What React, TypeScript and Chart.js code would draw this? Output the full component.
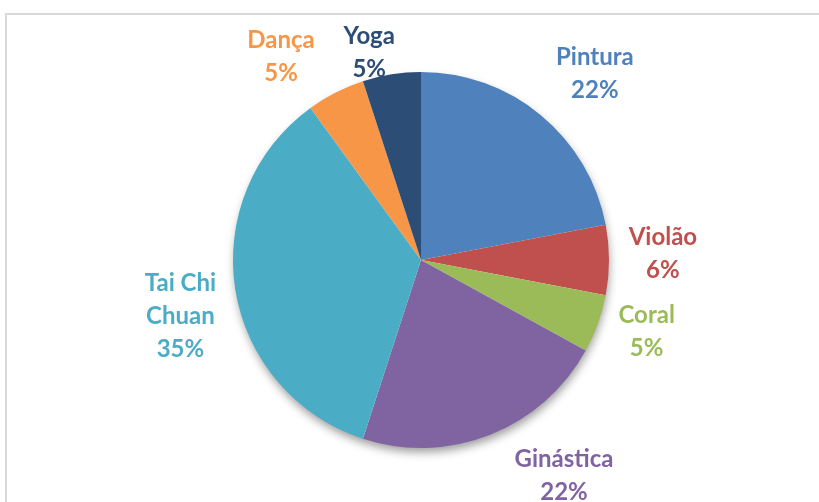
import React, { useEffect, useRef } from "react";
import { Chart, registerables } from "chart.js";

Chart.register(...registerables);

const categories = ["Pintura", "Violão", "Coral", "Ginástica", "Tai Chi Chuan", "Dança", "Yoga"];
const values = [22, 6, 5, 22, 35, 5, 5];
const colors = ["#4F81BD", "#C0504D", "#9BBB59", "#8064A2", "#4BACC6", "#F79646", "#2C4D75"];

// label placement styling (radial distance factor and angular tweak in degrees)
const labelDist = [1.356, 1.287, 1.26, 1.378, 1.314, 1.314, 1.138];
const labelAngleTweak = [3.4, -1.4, -2.1, -11.9, -4.1, -7.5, -5];

const FONT = "bold 24px Lato, 'Open Sans', sans-serif";

const framePlugin = {
  id: "frame",
  beforeDraw(chart: any) {
    const ctx = chart.ctx;
    ctx.save();
    ctx.fillStyle = "#ffffff";
    ctx.fillRect(0, 0, chart.width, chart.height);
    ctx.strokeStyle = "#d9d9d9";
    ctx.lineWidth = 2;
    ctx.strokeRect(6, 14, chart.width + 20, chart.height + 20);
    ctx.restore();
  },
};

const shadowPlugin = {
  id: "pieShadow",
  beforeDatasetsDraw(chart: any) {
    const meta = chart.getDatasetMeta(0);
    const el = meta.data[0];
    if (!el) return;
    const ctx = chart.ctx;
    ctx.save();
    ctx.shadowColor = "rgba(0,0,0,0.4)";
    ctx.shadowBlur = 10;
    ctx.shadowOffsetX = 1;
    ctx.shadowOffsetY = 5;
    ctx.fillStyle = "#ffffff";
    ctx.beginPath();
    ctx.arc(el.x, el.y, el.outerRadius - 1, 0, Math.PI * 2);
    ctx.fill();
    ctx.restore();
  },
};

const labelPlugin = {
  id: "outLabels",
  afterDatasetsDraw(chart: any) {
    const ctx = chart.ctx;
    const meta = chart.getDatasetMeta(0);
    const data = chart.data.datasets[0].data as number[];
    const total = data.reduce((a, b) => a + b, 0);
    ctx.save();
    ctx.font = FONT;
    ctx.textAlign = "center";
    ctx.textBaseline = "middle";
    meta.data.forEach((el: any, i: number) => {
      const mid = (el.startAngle + el.endAngle) / 2 + (labelAngleTweak[i] * Math.PI) / 180;
      const r = el.outerRadius * labelDist[i];
      const cx = el.x + Math.cos(mid) * r;
      const cy = el.y + Math.sin(mid) * r;
      const name = chart.data.labels[i] as string;
      const lines: string[] = [];
      if (name.length > 10) {
        const k = name.lastIndexOf(" ");
        lines.push(name.slice(0, k), name.slice(k + 1));
      } else lines.push(name);
      lines.push(Math.round((data[i] / total) * 100) + "%");
      const lh = 33;
      const y0 = cy - ((lines.length - 1) * lh) / 2;
      ctx.fillStyle = colors[i];
      lines.forEach((t, j) => ctx.fillText(t, cx, y0 + j * lh));
    });
    ctx.restore();
  },
};

export default function App() {
  const ref = useRef<HTMLCanvasElement | null>(null);
  useEffect(() => {
    document.body.style.margin = "0";
    if (!ref.current) return;
    const chart = new Chart(ref.current, {
      type: "pie",
      data: {
        labels: categories,
        datasets: [
          {
            data: values,
            backgroundColor: colors,
            borderWidth: 0,
          },
        ],
      },
      options: {
        animation: false,
        responsive: false,
        maintainAspectRatio: false,
        layout: { padding: { top: 72, bottom: 54, left: 233, right: 210 } },
        plugins: { legend: { display: false }, tooltip: { enabled: false } },
      },
      plugins: [framePlugin, shadowPlugin, labelPlugin],
    });
    return () => chart.destroy();
  }, []);
  return (
    <div style={{ width: 819, height: 502 }}>
      <canvas ref={ref} width={819} height={502} style={{ display: "block" }} />
    </div>
  );
}
